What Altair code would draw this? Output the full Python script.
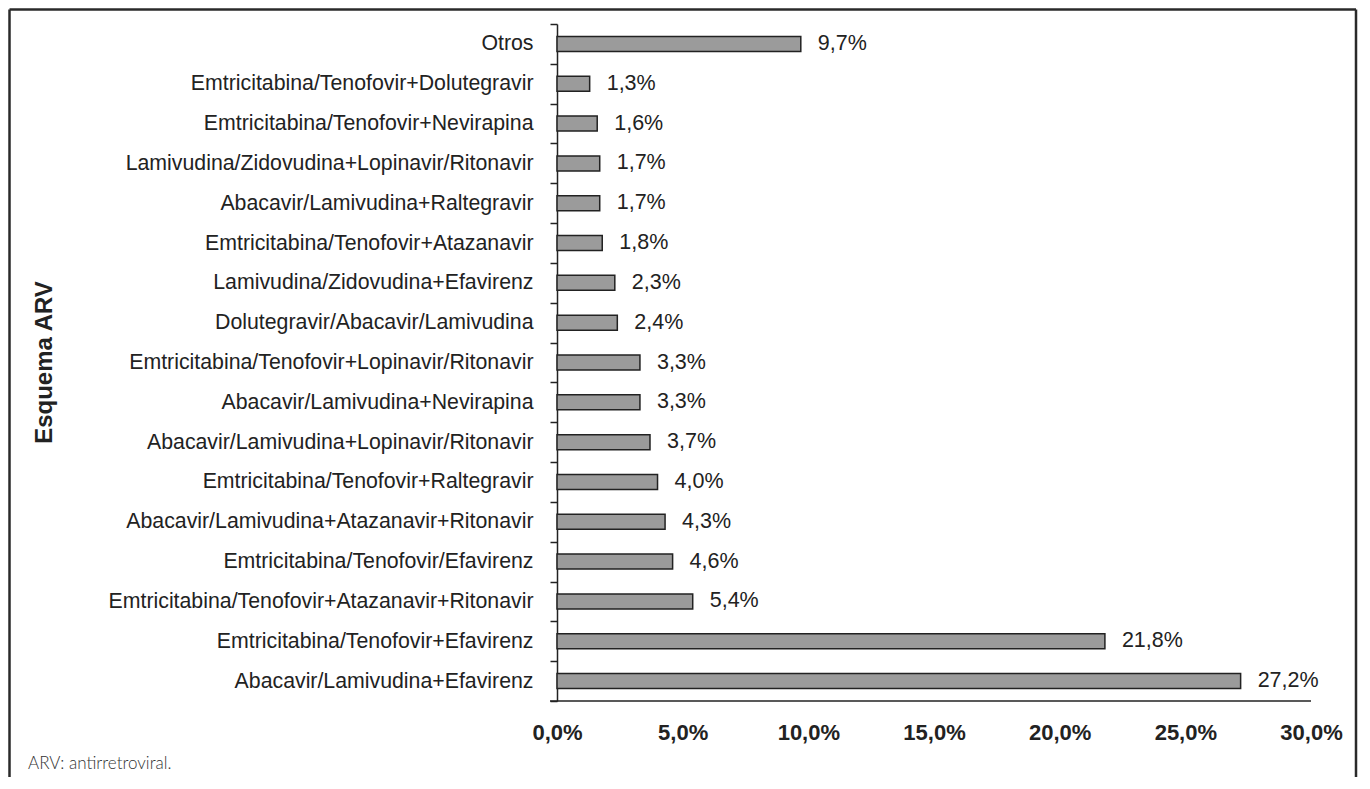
import altair as alt
import pandas as pd

categories = [
    "Otros",
    "Emtricitabina/Tenofovir+Dolutegravir",
    "Emtricitabina/Tenofovir+Nevirapina",
    "Lamivudina/Zidovudina+Lopinavir/Ritonavir",
    "Abacavir/Lamivudina+Raltegravir",
    "Emtricitabina/Tenofovir+Atazanavir",
    "Lamivudina/Zidovudina+Efavirenz",
    "Dolutegravir/Abacavir/Lamivudina",
    "Emtricitabina/Tenofovir+Lopinavir/Ritonavir",
    "Abacavir/Lamivudina+Nevirapina",
    "Abacavir/Lamivudina+Lopinavir/Ritonavir",
    "Emtricitabina/Tenofovir+Raltegravir",
    "Abacavir/Lamivudina+Atazanavir+Ritonavir",
    "Emtricitabina/Tenofovir/Efavirenz",
    "Emtricitabina/Tenofovir+Atazanavir+Ritonavir",
    "Emtricitabina/Tenofovir+Efavirenz",
    "Abacavir/Lamivudina+Efavirenz",
]
values = [9.7, 1.3, 1.6, 1.7, 1.7, 1.8, 2.3, 2.4, 3.3, 3.3, 3.7, 4.0, 4.3, 4.6, 5.4, 21.8, 27.2]
x_ticks = [0, 5, 10, 15, 20, 25, 30]
y_title = "Esquema ARV"
footnote = ["ARV: antirretroviral."]

FONT = "Liberation Sans"
INK = "#222222"
W, H = 754, 677

df = pd.DataFrame({"esquema": categories, "pct": values})
one = pd.DataFrame({"k": [0]})
note_df = pd.DataFrame({"t": footnote})

x_enc = alt.X(
    "pct:Q",
    scale=alt.Scale(domain=[0, 30], nice=False),
    axis=alt.Axis(
        values=x_ticks,
        labelExpr="replace(format(datum.value, '.1f'), '.', ',') + '%'",
        title=None,
        grid=False,
        ticks=False,
        domain=False,
        labelFont=FONT,
        labelFontSize=22,
        labelFontWeight="bold",
        labelColor=INK,
        labelPadding=21,
        labelFlush=False,
    ),
)
y_enc = alt.Y(
    "esquema:N",
    sort=categories,
    scale=alt.Scale(paddingInner=0, paddingOuter=0),
    axis=alt.Axis(
        title=y_title,
        titleFont=FONT,
        titleFontSize=24,
        titleFontWeight="bold",
        titleColor=INK,
        titleX=-513,
        titleY=338,
        titleAngle=270,
        titleAlign="center",
        titleBaseline="middle",
        labelFont=FONT,
        labelFontSize=21.3,
        labelColor=INK,
        labelLimit=700,
        labelPadding=17,
        tickBand="extent",
        tickSize=7,
        tickColor=INK,
        tickWidth=1.5,
        domainColor=INK,
        domainWidth=1.5,
    ),
)

base = alt.Chart(df)

bars = base.mark_bar(size=15, color="#9b9b9b", stroke=INK, strokeWidth=1.5).encode(
    x=x_enc, y=y_enc
)

labels = base.transform_calculate(
    lab="replace(format(datum.pct, '.1f'), '.', ',') + '%'"
).mark_text(
    align="left", baseline="middle", dx=17, font=FONT, fontSize=21.5, color=INK
).encode(x="pct:Q", y=alt.Y("esquema:N", sort=categories), text="lab:N")

xline = alt.Chart(one).mark_rule(color=INK, strokeWidth=1.5).encode(
    x=alt.value(-7), x2=alt.value(W), y=alt.value(H)
)

frame_left = alt.Chart(one).mark_rule(color="#2a2a2a", strokeWidth=2.5).encode(
    x=alt.value(-547.5), y=alt.value(-14.5), y2=alt.value(H + 90)
)
frame_top = alt.Chart(one).mark_rule(color="#2a2a2a", strokeWidth=2.5).encode(
    x=alt.value(-547.5), x2=alt.value(799), y=alt.value(-14.5)
)
frame_right = alt.Chart(one).mark_rule(color="#2a2a2a", strokeWidth=2.5).encode(
    x=alt.value(799), y=alt.value(-14.5), y2=alt.value(H + 90)
)

note = alt.Chart(note_df).mark_text(
    align="left", baseline="middle", font="Lato", fontWeight=300, fontSize=17, color="#333333"
).encode(x=alt.value(-529), y=alt.value(740), text="t:N")

chart = alt.layer(
    bars, labels, xline, frame_left, frame_top, frame_right, note
).properties(
    width=W,
    height=H,
    padding={"left": 549, "top": 16, "right": 47, "bottom": 76},
    autosize=alt.AutoSizeParams(type="none"),
    background="white",
).configure_view(stroke=None)

chart.save("out.html", embed_options={"renderer": "svg", "actions": False})
